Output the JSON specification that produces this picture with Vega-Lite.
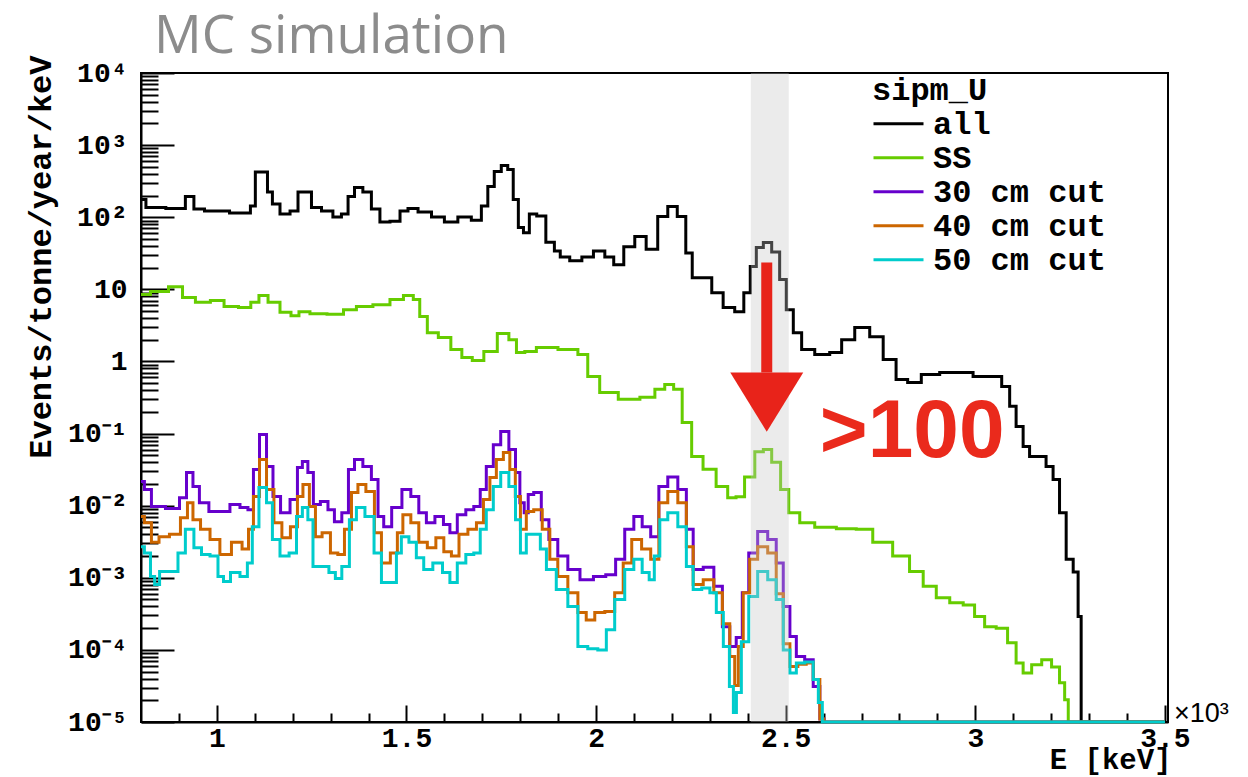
{
"$schema": "https://vega.github.io/schema/vega-lite/v6.json",
"width": 1027, "height": 649,
"autosize": {"type": "none"},
"padding": {"left": 141, "top": 73, "right": 80, "bottom": 55},
"background": "white",
"title": {"text": "MC simulation", "anchor": "start", "frame": "group", "font": "Open Sans", "fontSize": 53, "fontWeight": "normal", "color": "#8c8c8c", "dx": 13, "dy": 51, "baseline": "alphabetic", "offset": 0},
"datasets": {
"all": [
{"E":0.800,"v":176},{"E":0.826,"v":136},{"E":0.905,"v":132},{"E":0.929,"v":194},{"E":0.950,"v":130},{"E":0.985,"v":122},{"E":1.082,"v":114},{"E":1.095,"v":143},{"E":1.108,"v":424},{"E":1.127,"v":424},{"E":1.140,"v":224},{"E":1.153,"v":153},{"E":1.180,"v":111},{"E":1.206,"v":122},{"E":1.222,"v":224},{"E":1.240,"v":224},{"E":1.259,"v":136},{"E":1.293,"v":122},{"E":1.319,"v":101},{"E":1.338,"v":111},{"E":1.354,"v":194},{"E":1.372,"v":258},{"E":1.398,"v":224},{"E":1.417,"v":130},{"E":1.443,"v":86},{"E":1.470,"v":88},{"E":1.496,"v":122},{"E":1.512,"v":132},{"E":1.549,"v":118},{"E":1.583,"v":101},{"E":1.617,"v":86},{"E":1.654,"v":101},{"E":1.688,"v":91},{"E":1.707,"v":143},{"E":1.722,"v":267},{"E":1.741,"v":432},{"E":1.759,"v":523},{"E":1.775,"v":460},{"E":1.788,"v":176},{"E":1.802,"v":72},{"E":1.815,"v":61},{"E":1.833,"v":111},{"E":1.854,"v":104},{"E":1.881,"v":45},{"E":1.899,"v":34},{"E":1.912,"v":28},{"E":1.949,"v":25},{"E":1.976,"v":28},{"E":2.010,"v":34},{"E":2.036,"v":28},{"E":2.057,"v":22},{"E":2.089,"v":39},{"E":2.115,"v":54},{"E":2.149,"v":36},{"E":2.176,"v":102},{"E":2.202,"v":141},{"E":2.226,"v":102},{"E":2.247,"v":32},{"E":2.260,"v":14.5},{"E":2.292,"v":14.5},{"E":2.318,"v":9.0},{"E":2.352,"v":5.6},{"E":2.379,"v":4.9},{"E":2.400,"v":9.0},{"E":2.413,"v":20.7},{"E":2.432,"v":38},{"E":2.450,"v":44.6},{"E":2.476,"v":33},{"E":2.492,"v":13.7},{"E":2.511,"v":5.2},{"E":2.529,"v":2.5},{"E":2.555,"v":1.46},{"E":2.598,"v":1.25},{"E":2.634,"v":1.33},{"E":2.661,"v":2.0},{"E":2.703,"v":2.95},{"E":2.740,"v":2.2},{"E":2.774,"v":1.06},{"E":2.808,"v":0.56},{"E":2.835,"v":0.51},{"E":2.880,"v":0.66},{"E":2.932,"v":0.70},{"E":3.056,"v":0.62},{"E":3.083,"v":0.45},{"E":3.098,"v":0.24},{"E":3.117,"v":0.125},{"E":3.135,"v":0.066},{"E":3.151,"v":0.048},{"E":3.177,"v":0.048},{"E":3.196,"v":0.035},{"E":3.214,"v":0.023},{"E":3.230,"v":0.008},{"E":3.249,"v":0.0018},{"E":3.267,"v":0.0012},{"E":3.275,"v":0.00029},{"E":3.283,"v":1e-5},{"E":3.500,"v":1e-5}
],
"ss": [
{"E":0.800,"v":8.5},{"E":0.850,"v":9.3},{"E":0.895,"v":10.9},{"E":0.924,"v":7.7},{"E":0.963,"v":6.6},{"E":1.003,"v":7.0},{"E":1.035,"v":5.8},{"E":1.079,"v":5.6},{"E":1.100,"v":6.6},{"E":1.122,"v":8.2},{"E":1.148,"v":6.6},{"E":1.185,"v":4.8},{"E":1.206,"v":4.3},{"E":1.227,"v":4.9},{"E":1.264,"v":4.6},{"E":1.317,"v":4.5},{"E":1.351,"v":5.2},{"E":1.385,"v":5.8},{"E":1.438,"v":6.1},{"E":1.475,"v":7.2},{"E":1.509,"v":8.2},{"E":1.527,"v":7.2},{"E":1.543,"v":4.2},{"E":1.567,"v":2.5},{"E":1.601,"v":2.14},{"E":1.633,"v":1.46},{"E":1.659,"v":1.13},{"E":1.688,"v":1.03},{"E":1.720,"v":1.37},{"E":1.759,"v":2.44},{"E":1.781,"v":2.0},{"E":1.799,"v":1.33},{"E":1.825,"v":1.37},{"E":1.860,"v":1.56},{"E":1.939,"v":1.46},{"E":1.965,"v":1.25},{"E":1.991,"v":0.62},{"E":2.028,"v":0.37},{"E":2.089,"v":0.30},{"E":2.142,"v":0.32},{"E":2.168,"v":0.41},{"E":2.194,"v":0.48},{"E":2.215,"v":0.41},{"E":2.239,"v":0.142},{"E":2.265,"v":0.048},{"E":2.299,"v":0.032},{"E":2.334,"v":0.0184},{"E":2.360,"v":0.0129},{"E":2.378,"v":0.0133},{"E":2.405,"v":0.025},{"E":2.432,"v":0.056},{"E":2.450,"v":0.060},{"E":2.476,"v":0.040},{"E":2.497,"v":0.0167},{"E":2.519,"v":0.0080},{"E":2.555,"v":0.0058},{"E":2.598,"v":0.0050},{"E":2.669,"v":0.0048},{"E":2.703,"v":0.0047},{"E":2.756,"v":0.0031},{"E":2.808,"v":0.0020},{"E":2.845,"v":0.00122},{"E":2.880,"v":0.00076},{"E":2.914,"v":0.00053},{"E":2.951,"v":0.00045},{"E":2.985,"v":0.00042},{"E":3.011,"v":0.00029},{"E":3.038,"v":0.00021},{"E":3.072,"v":0.00020},{"E":3.098,"v":0.000126},{"E":3.117,"v":0.000066},{"E":3.135,"v":0.000048},{"E":3.162,"v":0.000062},{"E":3.188,"v":0.000073},{"E":3.214,"v":0.000058},{"E":3.230,"v":0.000035},{"E":3.241,"v":0.0000204},{"E":3.249,"v":1e-5},{"E":3.500,"v":1e-5}
],
"c30": [
{"E":0.800,"v":0.0216},{"E":0.818,"v":0.0167},{"E":0.837,"v":0.0097},{"E":0.892,"v":0.0091},{"E":0.911,"v":0.0129},{"E":0.929,"v":0.0288},{"E":0.945,"v":0.0184},{"E":0.963,"v":0.0110},{"E":0.995,"v":0.0083},{"E":1.021,"v":0.0083},{"E":1.048,"v":0.0104},{"E":1.074,"v":0.0094},{"E":1.090,"v":0.0088},{"E":1.103,"v":0.0317},{"E":1.122,"v":0.097},{"E":1.140,"v":0.035},{"E":1.156,"v":0.0134},{"E":1.180,"v":0.0080},{"E":1.206,"v":0.0122},{"E":1.219,"v":0.0338},{"E":1.232,"v":0.041},{"E":1.248,"v":0.0288},{"E":1.261,"v":0.0104},{"E":1.285,"v":0.0114},{"E":1.301,"v":0.0088},{"E":1.319,"v":0.0060},{"E":1.340,"v":0.0080},{"E":1.354,"v":0.0317},{"E":1.372,"v":0.0436},{"E":1.398,"v":0.035},{"E":1.417,"v":0.0230},{"E":1.433,"v":0.0071},{"E":1.447,"v":0.0051},{"E":1.475,"v":0.0094},{"E":1.501,"v":0.0167},{"E":1.522,"v":0.0134},{"E":1.543,"v":0.0080},{"E":1.562,"v":0.0058},{"E":1.588,"v":0.0071},{"E":1.607,"v":0.0055},{"E":1.622,"v":0.0042},{"E":1.646,"v":0.0075},{"E":1.667,"v":0.0088},{"E":1.688,"v":0.0097},{"E":1.701,"v":0.0167},{"E":1.720,"v":0.035},{"E":1.738,"v":0.070},{"E":1.759,"v":0.107},{"E":1.781,"v":0.060},{"E":1.794,"v":0.0288},{"E":1.804,"v":0.011},{"E":1.817,"v":0.0080},{"E":1.825,"v":0.0143},{"E":1.846,"v":0.0152},{"E":1.865,"v":0.0064},{"E":1.886,"v":0.0034},{"E":1.912,"v":0.0020},{"E":1.939,"v":0.0013},{"E":1.976,"v":0.00094},{"E":2.010,"v":0.00104},{"E":2.041,"v":0.0011},{"E":2.062,"v":0.0018},{"E":2.089,"v":0.0047},{"E":2.110,"v":0.0071},{"E":2.133,"v":0.0051},{"E":2.155,"v":0.0037},{"E":2.176,"v":0.0184},{"E":2.202,"v":0.025},{"E":2.229,"v":0.0167},{"E":2.247,"v":0.0047},{"E":2.265,"v":0.0013},{"E":2.300,"v":0.0014},{"E":2.321,"v":0.00076},{"E":2.345,"v":0.00021},{"E":2.360,"v":0.000111},{"E":2.379,"v":0.000148},{"E":2.392,"v":0.00062},{"E":2.413,"v":0.0022},{"E":2.439,"v":0.0044},{"E":2.466,"v":0.0034},{"E":2.484,"v":0.0016},{"E":2.503,"v":0.00040},{"E":2.519,"v":0.000153},{"E":2.537,"v":0.000081},{"E":2.563,"v":0.000073},{"E":2.582,"v":0.000031},{"E":2.598,"v":0.000011},{"E":2.603,"v":1e-5},{"E":3.500,"v":1e-5}
],
"c40": [
{"E":0.800,"v":0.0071},{"E":0.818,"v":0.0058},{"E":0.837,"v":0.0031},{"E":0.858,"v":0.0037},{"E":0.892,"v":0.0040},{"E":0.916,"v":0.0068},{"E":0.929,"v":0.0110},{"E":0.945,"v":0.0064},{"E":0.969,"v":0.0047},{"E":0.995,"v":0.0034},{"E":1.021,"v":0.0021},{"E":1.056,"v":0.0031},{"E":1.077,"v":0.0025},{"E":1.090,"v":0.0047},{"E":1.103,"v":0.0134},{"E":1.122,"v":0.0436},{"E":1.140,"v":0.0167},{"E":1.161,"v":0.0058},{"E":1.182,"v":0.0036},{"E":1.206,"v":0.0051},{"E":1.219,"v":0.0134},{"E":1.235,"v":0.0196},{"E":1.253,"v":0.0097},{"E":1.267,"v":0.0037},{"E":1.288,"v":0.0042},{"E":1.311,"v":0.0022},{"E":1.327,"v":0.0021},{"E":1.346,"v":0.0047},{"E":1.364,"v":0.0152},{"E":1.380,"v":0.0196},{"E":1.406,"v":0.0157},{"E":1.425,"v":0.0042},{"E":1.443,"v":0.0016},{"E":1.472,"v":0.0022},{"E":1.480,"v":0.0042},{"E":1.501,"v":0.0075},{"E":1.522,"v":0.0058},{"E":1.543,"v":0.0031},{"E":1.567,"v":0.0026},{"E":1.588,"v":0.0036},{"E":1.609,"v":0.0023},{"E":1.628,"v":0.0020},{"E":1.649,"v":0.0040},{"E":1.675,"v":0.0047},{"E":1.694,"v":0.0058},{"E":1.712,"v":0.0122},{"E":1.728,"v":0.0245},{"E":1.746,"v":0.0436},{"E":1.765,"v":0.0546},{"E":1.780,"v":0.0317},{"E":1.794,"v":0.0134},{"E":1.807,"v":0.0047},{"E":1.825,"v":0.0083},{"E":1.846,"v":0.0088},{"E":1.870,"v":0.0047},{"E":1.886,"v":0.0018},{"E":1.912,"v":0.00104},{"E":1.939,"v":0.00062},{"E":1.965,"v":0.00033},{"E":1.983,"v":0.00026},{"E":2.010,"v":0.00033},{"E":2.036,"v":0.00034},{"E":2.062,"v":0.00062},{"E":2.081,"v":0.0016},{"E":2.107,"v":0.0034},{"E":2.133,"v":0.0025},{"E":2.155,"v":0.0018},{"E":2.176,"v":0.0110},{"E":2.202,"v":0.0157},{"E":2.229,"v":0.0110},{"E":2.247,"v":0.0027},{"E":2.265,"v":0.00081},{"E":2.300,"v":0.00094},{"E":2.321,"v":0.00062},{"E":2.345,"v":0.00023},{"E":2.360,"v":0.000081},{"E":2.371,"v":0.000032},{"E":2.379,"v":0.000111},{"E":2.397,"v":0.00062},{"E":2.413,"v":0.0018},{"E":2.439,"v":0.0027},{"E":2.466,"v":0.0022},{"E":2.484,"v":0.00060},{"E":2.503,"v":0.000122},{"E":2.519,"v":0.000059},{"E":2.545,"v":0.000063},{"E":2.563,"v":0.000066},{"E":2.582,"v":0.000039},{"E":2.598,"v":0.000011},{"E":2.603,"v":1e-5},{"E":3.500,"v":1e-5}
],
"c50": [
{"E":0.800,"v":0.0027},{"E":0.818,"v":0.0022},{"E":0.832,"v":0.00104},{"E":0.840,"v":0.00081},{"E":0.858,"v":0.00122},{"E":0.890,"v":0.00122},{"E":0.905,"v":0.0022},{"E":0.929,"v":0.0047},{"E":0.950,"v":0.0026},{"E":0.969,"v":0.0021},{"E":0.995,"v":0.0020},{"E":1.011,"v":0.00104},{"E":1.024,"v":0.00089},{"E":1.048,"v":0.00118},{"E":1.074,"v":0.00104},{"E":1.087,"v":0.0016},{"E":1.100,"v":0.0051},{"E":1.122,"v":0.0178},{"E":1.140,"v":0.0110},{"E":1.153,"v":0.0034},{"E":1.180,"v":0.0020},{"E":1.201,"v":0.0022},{"E":1.219,"v":0.0071},{"E":1.232,"v":0.0094},{"E":1.248,"v":0.0064},{"E":1.259,"v":0.00143},{"E":1.285,"v":0.00143},{"E":1.306,"v":0.00118},{"E":1.319,"v":0.00098},{"E":1.340,"v":0.00143},{"E":1.359,"v":0.0064},{"E":1.377,"v":0.0094},{"E":1.404,"v":0.0071},{"E":1.425,"v":0.0022},{"E":1.443,"v":0.00086},{"E":1.470,"v":0.00086},{"E":1.477,"v":0.0022},{"E":1.496,"v":0.0037},{"E":1.517,"v":0.0031},{"E":1.535,"v":0.0019},{"E":1.556,"v":0.0013},{"E":1.583,"v":0.0016},{"E":1.607,"v":0.00118},{"E":1.622,"v":0.00086},{"E":1.646,"v":0.0016},{"E":1.667,"v":0.0021},{"E":1.688,"v":0.0022},{"E":1.701,"v":0.0047},{"E":1.720,"v":0.0088},{"E":1.738,"v":0.0184},{"E":1.759,"v":0.0288},{"E":1.781,"v":0.0184},{"E":1.794,"v":0.0064},{"E":1.807,"v":0.0022},{"E":1.825,"v":0.0040},{"E":1.846,"v":0.0040},{"E":1.860,"v":0.0025},{"E":1.878,"v":0.0013},{"E":1.912,"v":0.00069},{"E":1.939,"v":0.00040},{"E":1.965,"v":0.000111},{"E":1.991,"v":0.000104},{"E":2.018,"v":0.000100},{"E":2.036,"v":0.00019},{"E":2.062,"v":0.00050},{"E":2.089,"v":0.0013},{"E":2.110,"v":0.0018},{"E":2.133,"v":0.00118},{"E":2.147,"v":0.00094},{"E":2.160,"v":0.0020},{"E":2.176,"v":0.0064},{"E":2.202,"v":0.0080},{"E":2.229,"v":0.0051},{"E":2.247,"v":0.00143},{"E":2.265,"v":0.00069},{"E":2.292,"v":0.00072},{"E":2.308,"v":0.00062},{"E":2.326,"v":0.00033},{"E":2.345,"v":0.000111},{"E":2.358,"v":0.000031},{"E":2.366,"v":0.0000135},{"E":2.374,"v":0.0000256},{"E":2.392,"v":0.00013},{"E":2.413,"v":0.00055},{"E":2.439,"v":0.00122},{"E":2.466,"v":0.00094},{"E":2.484,"v":0.00050},{"E":2.503,"v":0.000100},{"E":2.519,"v":0.000048},{"E":2.537,"v":0.000066},{"E":2.563,"v":0.000068},{"E":2.582,"v":0.000039},{"E":2.590,"v":0.0000186},{"E":2.603,"v":1e-5},{"E":3.500,"v":1e-5}
],
"band": [{"E":2.408,"E2":2.508,"v":1e-5,"v2":1e4}],
"shaft": [{"E":2.45,"v":23.5,"v2":0.70}],
"head": [{"E":2.45,"v":0.273}],
"note": [{"E":2.59,"v":0.048,"t":">100"}],
"mult": [{"E":3.5,"v":1e-5,"t":"×10³"}]
},
"encoding": {
"x": {"field": "E", "type": "quantitative",
 "scale": {"domain": [0.8, 3.508], "nice": false, "zero": false},
 "axis": {"title": "E [keV]",
  "values": [0.9,1,1.1,1.2,1.3,1.4,1.5,1.6,1.7,1.8,1.9,2,2.1,2.2,2.3,2.4,2.5,2.6,2.7,2.8,2.9,3,3.1,3.2,3.3,3.4,3.5],
  "tickSize": {"condition": {"test": "abs(datum.value*2-round(datum.value*2))<0.01", "value": -17}, "value": -9},
  "tickWidth": 2, "tickColor": "#000", "domainColor": "#000", "domainWidth": 2, "grid": false,
  "labelExpr": "abs(datum.value*2-round(datum.value*2))<0.01 ? format(datum.value, '~g') : ''",
  "labelFont": "Liberation Mono", "labelFontSize": 28, "labelFontWeight": "bold", "labelColor": "#000",
  "labelPadding": 19, "labelOverlap": false, "labelBound": false, "labelFlush": false,
  "titleFont": "Liberation Mono", "titleFontSize": 29, "titleFontWeight": "bold", "titleColor": "#000",
  "titleAlign": "right", "titleAnchor": "end", "titleBaseline": "alphabetic", "titleX": 1030, "titleY": 46}},
"y": {"field": "v", "type": "quantitative",
 "scale": {"type": "log", "domain": [1e-5, 1e4], "nice": false},
 "axis": {"title": "Events/tonne/year/keV",
  "values": [1e-5,2e-5,3e-5,4e-5,5e-5,6e-5,7e-5,8e-5,9e-5,1e-4,2e-4,3e-4,4e-4,5e-4,6e-4,7e-4,8e-4,9e-4,1e-3,2e-3,3e-3,4e-3,5e-3,6e-3,7e-3,8e-3,9e-3,1e-2,2e-2,3e-2,4e-2,5e-2,6e-2,7e-2,8e-2,9e-2,0.1,0.2,0.3,0.4,0.5,0.6,0.7,0.8,0.9,1,2,3,4,5,6,7,8,9,10,20,30,40,50,60,70,80,90,100,200,300,400,500,600,700,800,900,1000,2000,3000,4000,5000,6000,7000,8000,9000,10000],
  "tickSize": {"condition": {"test": "abs(log(datum.value)/LN10-round(log(datum.value)/LN10))<0.01", "value": -33}, "value": -17},
  "tickWidth": 2, "tickColor": "#000", "domainColor": "#000", "domainWidth": 2, "grid": false,
  "labelExpr": "abs(log(datum.value)/LN10-round(log(datum.value)/LN10))<0.01 ? ['10⁻⁵','10⁻⁴','10⁻³','10⁻²','10⁻¹','1','10','10²','10³','10⁴'][round(log(datum.value)/LN10)+5] : ''",
  "labelFont": "Liberation Mono", "labelFontSize": 28, "labelFontWeight": "bold", "labelColor": "#000",
  "labelPadding": 47, "labelOverlap": false, "labelBound": false, "labelFlush": false,
  "titleFont": "Liberation Mono", "titleFontSize": 32, "titleFontWeight": "bold", "titleColor": "#000",
  "titleAngle": 270, "titleAlign": "right", "titleBaseline": "bottom", "titleX": -84, "titleY": -18}}
},
"layer": [
{"data": {"name": "all"}, "mark": {"type": "line", "interpolate": "step", "strokeWidth": 3},
 "encoding": {"color": {"datum": "all", "type": "nominal",
  "scale": {"domain": ["all", "SS", "30 cm cut", "40 cm cut", "50 cm cut"], "range": ["#000000", "#66cc00", "#6600cc", "#cc6600", "#00cccc"]},
  "legend": {"title": "sipm_U", "orient": "none", "legendX": 731, "legendY": 2, "padding": 0,
   "titleFont": "Liberation Mono", "titleFontSize": 32, "titleFontWeight": "bold", "titleColor": "#000", "titlePadding": 0, "titleLimit": 400,
   "labelFont": "Liberation Mono", "labelFontSize": 32, "labelFontWeight": "bold", "labelColor": "#000", "labelLimit": 400, "labelOffset": 8,
   "symbolType": "stroke", "symbolSize": 2500, "symbolStrokeWidth": 3, "clipHeight": 33.5, "rowPadding": 0}}}},
{"data": {"name": "ss"}, "mark": {"type": "line", "interpolate": "step", "strokeWidth": 3}, "encoding": {"color": {"datum": "SS", "type": "nominal"}}},
{"data": {"name": "c30"}, "mark": {"type": "line", "interpolate": "step", "strokeWidth": 3}, "encoding": {"color": {"datum": "30 cm cut", "type": "nominal"}}},
{"data": {"name": "c40"}, "mark": {"type": "line", "interpolate": "step", "strokeWidth": 3}, "encoding": {"color": {"datum": "40 cm cut", "type": "nominal"}}},
{"data": {"name": "c50"}, "mark": {"type": "line", "interpolate": "step", "strokeWidth": 3}, "encoding": {"color": {"datum": "50 cm cut", "type": "nominal"}}},
{"data": {"name": "band"}, "mark": {"type": "rect", "color": "#c5c5c5", "opacity": 0.345}, "encoding": {"x2": {"field": "E2"}, "y2": {"field": "v2"}}},
{"data": {"name": "shaft"}, "mark": {"type": "rule", "color": "#e8231a", "strokeWidth": 11}, "encoding": {"y2": {"field": "v2"}}},
{"data": {"name": "head"}, "mark": {"type": "point", "filled": true, "color": "#e8231a", "opacity": 1, "size": 5329, "shape": "M -1 -0.81 L 1 -0.81 L 0 0.81 Z", "strokeWidth": 0}, "encoding": {}},
{"data": {"name": "note"}, "mark": {"type": "text", "font": "Liberation Sans", "fontWeight": "bold", "fontSize": 82, "color": "#ea2a1c", "align": "left", "baseline": "alphabetic"}, "encoding": {"text": {"field": "t"}}},
{"data": {"name": "mult"}, "mark": {"type": "text", "font": "Liberation Sans", "fontSize": 27, "color": "#000", "align": "left", "baseline": "alphabetic", "dx": 9}, "encoding": {"text": {"field": "t"}}}
],
"config": {"view": {"stroke": "#000", "strokeWidth": 2}}
}
